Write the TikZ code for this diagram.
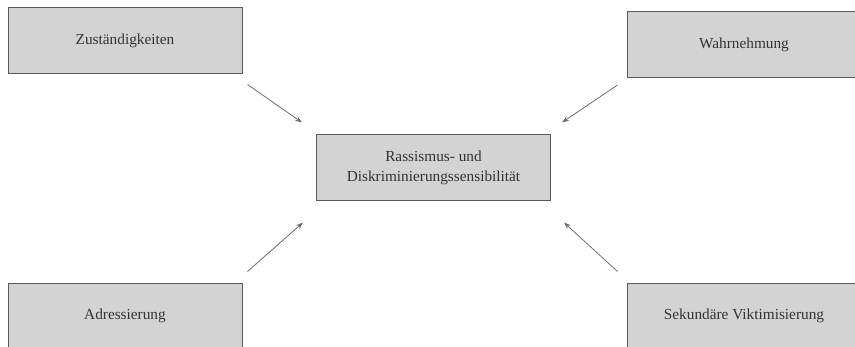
\documentclass[tikz,border=0pt]{standalone}
\usepackage{fontspec}
\setmainfont{Liberation Serif}
\usetikzlibrary{arrows.meta}
\definecolor{boxfill}{HTML}{D3D3D3}
\definecolor{boxline}{HTML}{5A5A5A}
\definecolor{arrowcol}{HTML}{6E6E6E}
\definecolor{textcol}{HTML}{333333}
\begin{document}
\begin{tikzpicture}[x=1pt,y=1pt,
  factor/.style={draw=boxline, line width=1pt, fill=boxfill,
    minimum width=234pt, minimum height=66pt, inner sep=0pt,
    text=textcol, align=center,
    font=\fontsize{15.3}{19.5}\selectfont},
  link/.style={draw=arrowcol, line width=0.8pt,
    -{Stealth[length=7pt,width=5pt]}}]
  \clip (0,0) rectangle (855,346);
  \fill[white] (0,0) rectangle (855,346);

  \node[factor] (tl) at (125,305)   {Zuständigkeiten};
  \node[factor] (tr) at (744,301.5) {Wahrnehmung};
  \node[factor] (c)  at (433.5,178) {Rassismus- und\\Diskriminierungssensibilität};
  \node[factor] (bl) at (125,30)    {Adressierung};
  \node[factor] (br) at (744,30)    {Sekundäre Viktimisierung};

  \draw[link] ([shift={(5,-10)}]tl.south east) -- ([shift={(-14,12)}]c.north west);
  \draw[link] ([shift={(-9,-7)}]tr.south west) -- ([shift={(11,12)}]c.north east);
  \draw[link] ([shift={(5,11)}]bl.north east) -- ([shift={(-13,-21)}]c.south west);
  \draw[link] ([shift={(-9,11)}]br.north west) -- ([shift={(13,-21)}]c.south east);
\end{tikzpicture}
\end{document}
